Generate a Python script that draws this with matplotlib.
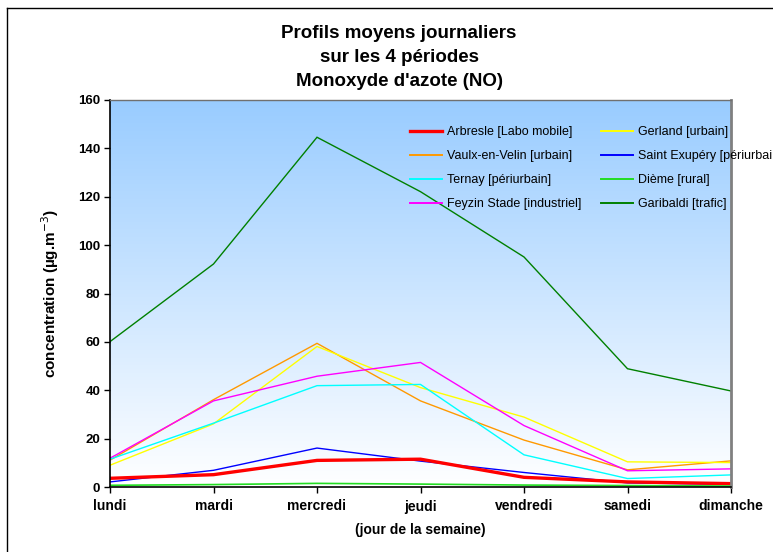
import matplotlib
matplotlib.use("Agg")
import matplotlib.pyplot as plt
import numpy as np
from matplotlib.colors import LinearSegmentedColormap
from matplotlib.lines import Line2D

plt.rcParams['font.family'] = ['Liberation Sans', 'DejaVu Sans']

days = ["lundi", "mardi", "mercredi", "jeudi", "vendredi", "samedi", "dimanche"]

arbresle = [3.6, 5.1, 11.0, 11.5, 4.0, 2.1, 1.4]
vaulx = [11.1, 36.1, 59.4, 35.6, 19.4, 7.1, 10.8]
ternay = [11.5, 26.4, 41.9, 42.4, 13.3, 3.5, 5.0]
feyzin = [11.9, 35.6, 45.8, 51.5, 25.4, 6.7, 7.5]
gerland = [9.0, 26.1, 58.1, 41.1, 28.9, 10.4, 10.1]
st_exupery = [2.1, 6.9, 16.1, 10.7, 6.0, 1.7, 1.1]
dieme = [0.7, 1.0, 1.5, 1.2, 0.8, 0.6, 0.4]
garibaldi = [60.1, 92.2, 144.6, 122.1, 95.1, 48.9, 39.7]

series = [
    ("Arbresle [Labo mobile]", arbresle, "#FF0000", 2.4),
    ("Vaulx-en-Velin [urbain]", vaulx, "#FF9900", 1.0),
    ("Ternay [périurbain]", ternay, "#00FFFF", 1.0),
    ("Feyzin Stade [industriel]", feyzin, "#FF00FF", 1.0),
    ("Gerland [urbain]", gerland, "#FFFF00", 1.0),
    ("Saint Exupéry [périurbain]", st_exupery, "#0000FF", 1.0),
    ("Dième [rural]", dieme, "#22DD22", 1.2),
    ("Garibaldi [trafic]", garibaldi, "#008000", 1.0),
]

fig = plt.figure(figsize=(7.73, 5.52), dpi=100)
ax = fig.add_axes([110/773, 1-487/552, (731-110)/773, (487-100)/552])

x = np.arange(len(days))
# gradient background
cmap = LinearSegmentedColormap.from_list("bg", ["#FFFFFF", "#99CCFF"])
grad = np.linspace(0, 1, 256).reshape(-1, 1)
ax.imshow(grad, aspect='auto', cmap=cmap, origin='lower',
          extent=[0, 1, 0, 1], transform=ax.transAxes, zorder=0)

order = [7, 1, 4, 3, 2, 5, 0, 6]
for i in order:
    name, vals, col, lw = series[i]
    ax.plot(x, vals, color=col, lw=lw, zorder=2, solid_joinstyle='miter')

ax.set_xlim(0, len(days) - 1)
ax.set_ylim(0, 160)
ax.set_yticks(range(0, 161, 20))
ax.set_xticks(x)
ax.set_xticklabels(days, fontsize=10, fontweight='bold')
for lab in ax.get_yticklabels():
    lab.set_fontweight('bold')
    lab.set_fontsize(9.5)
ax.tick_params(axis='both', direction='out', length=4, width=1, color='black', pad=3)
ax.tick_params(axis='x', pad=5)

for s in ['left', 'bottom']:
    ax.spines[s].set_color('black')
    ax.spines[s].set_linewidth(1.2)
ax.spines['right'].set_color('#808080')
ax.spines['right'].set_linewidth(2)
ax.spines['top'].set_color('#707070')
ax.spines['top'].set_linewidth(1)

ax.set_ylabel("concentration (µg.m$^{-3}$)", fontsize=11, fontweight='bold', labelpad=12)
ax.set_xlabel("(jour de la semaine)", fontsize=10, fontweight='bold', labelpad=7)

# legend
leg_handles = [Line2D([0], [0], color=s[2], lw=(2.4 if i == 0 else 1.4)) for i, s in enumerate(series)]
leg_labels = [s[0] for s in series]
leg = fig.legend(leg_handles, leg_labels, ncol=2, frameon=False, fontsize=9,
                 loc='upper left', bbox_to_anchor=(410/773, 1-126/552),
                 handlelength=2.6, handletextpad=0.35, columnspacing=1.55,
                 labelspacing=0.97, borderaxespad=0, borderpad=0)

# title
for txt, yy in [("Profils moyens journaliers", 33), ("sur les 4 périodes", 57),
                ("Monoxyde d'azote (NO)", 82)]:
    fig.text(399/773, 1-yy/552, txt, ha='center', va='center',
             fontsize=13.5, fontweight='bold')

# outer frame (top and left edges visible)
fig.add_artist(Line2D([7/773, 1], [1-8/552, 1-8/552], color='black', lw=1, transform=fig.transFigure))
fig.add_artist(Line2D([7/773, 7/773], [0, 1-8/552], color='black', lw=1, transform=fig.transFigure))

fig.savefig("out.png", dpi=100)
